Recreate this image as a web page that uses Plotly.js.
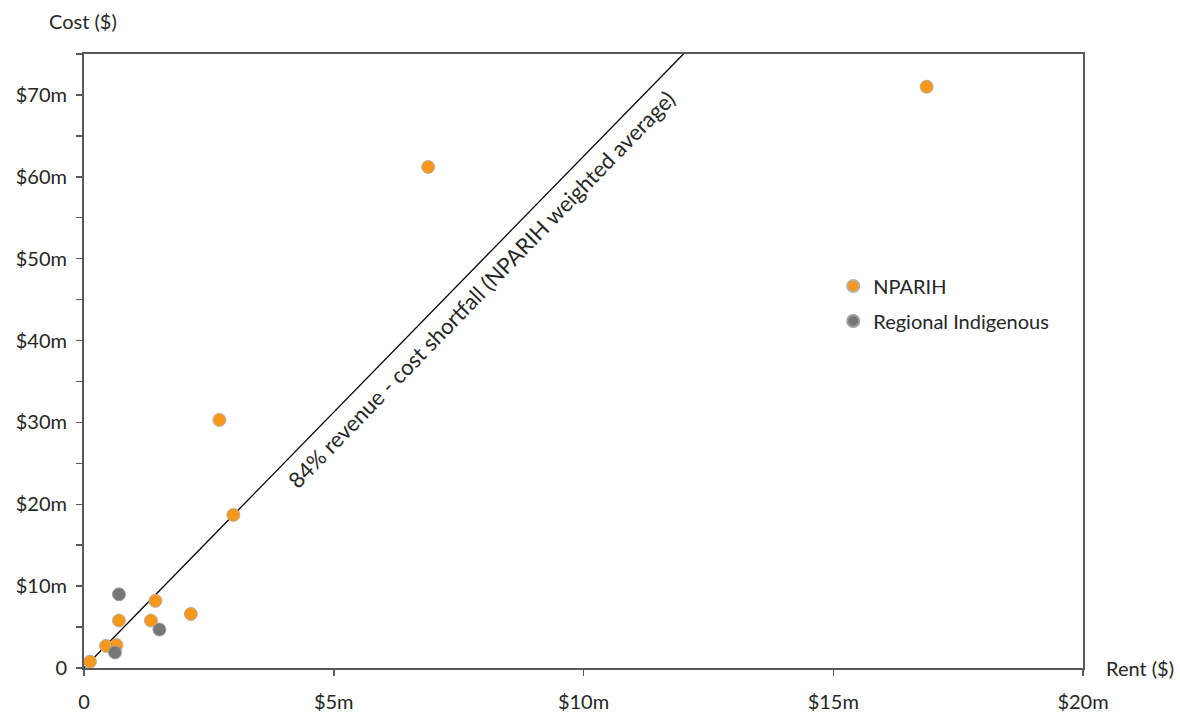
<!DOCTYPE html>
<html>
<head>
<meta charset="utf-8">
<script src="https://cdn.plot.ly/plotly-3.0.1.min.js"></script>
<style>html,body{margin:0;padding:0;background:#fff}#chart{width:1180px;height:715px}</style>
</head>
<body>
<div id="chart"></div>
<script>
// Rent ($m) and Cost ($m)
const nparihRent = [0.12, 0.44, 0.65, 0.70, 1.34, 1.43, 2.14, 2.71, 2.99, 6.89, 16.87];
const nparihCost = [0.77, 2.7, 2.8, 5.8, 5.8, 8.2, 6.6, 30.3, 18.7, 61.2, 71.0];
const regionalRent = [0.62, 0.70, 1.51];
const regionalCost = [1.9, 9.0, 4.7];
const shortfallRent = [0, 12];
const shortfallCost = [0, 75];
const xTickVals = [0, 5, 10, 15, 20];
const xTickText = ['0', '$5m', '$10m', '$15m', '$20m'];
const yTickVals = [0, 10, 20, 30, 40, 50, 60, 70];
const yTickText = ['0', '$10m', '$20m', '$30m', '$40m', '$50m', '$60m', '$70m'];

const FONT = 'Lato, "Open Sans", sans-serif';
const TXT = '#262626';
const FS = 20;

const traces = [
  {x: shortfallRent, y: shortfallCost, mode: 'lines', type: 'scatter', showlegend: false,
   line: {color: '#000', width: 1.3}, hoverinfo: 'skip'},
  {x: nparihRent, y: nparihCost, mode: 'markers', type: 'scatter', name: 'NPARIH', cliponaxis: false,
   legendgroup: 'a',
   marker: {color: '#F7981D', size: 13, line: {color: '#B8B0A0', width: 1}}},
  {x: regionalRent, y: regionalCost, mode: 'markers', type: 'scatter', name: 'Regional Indigenous', cliponaxis: false,
   legendgroup: 'b',
   marker: {color: '#767676', size: 13, line: {color: '#A0A0A0', width: 1}}}
];

const layout = {
  width: 1180, height: 715,
  margin: {l: 84, r: 97, t: 54, b: 47},
  paper_bgcolor: '#fff', plot_bgcolor: '#fff',
  font: {family: FONT, size: FS, color: TXT},
  xaxis: {range: [0, 20], tickvals: xTickVals, ticktext: xTickText, ticks: 'outside', ticklen: 6,
          tickcolor: '#595959', tickwidth: 1.5, showgrid: false, zeroline: false,
          showline: true, linecolor: '#595959', linewidth: 2, mirror: true, ticklabelstandoff: 9,
          tickfont: {family: FONT, size: FS, color: TXT}, fixedrange: true},
  yaxis: {range: [0, 75], tickvals: yTickVals, ticktext: yTickText, ticks: 'outside', ticklen: 6,
          tickcolor: '#595959', tickwidth: 1.5, showgrid: false, zeroline: false,
          showline: true, linecolor: '#595959', linewidth: 2, mirror: true, ticklabelstandoff: 5,
          minor: {ticks: 'outside', dtick: 5, tick0: 0, ticklen: 6, tickcolor: '#595959', tickwidth: 1.5, showgrid: false},
          tickfont: {family: FONT, size: FS, color: TXT}, fixedrange: true},
  legend: {x: 0.75, y: 0.654, xanchor: 'left', yanchor: 'top', bgcolor: 'rgba(0,0,0,0)',
           font: {family: FONT, size: FS, color: TXT}, tracegroupgap: 6, itemsizing: 'constant'},
  annotations: [
    {text: 'Cost ($)', xref: 'paper', yref: 'paper', x: 0, y: 1, xshift: -37, yshift: 33,
     xanchor: 'left', yanchor: 'middle', showarrow: false, font: {family: FONT, size: FS, color: TXT}},
    {text: 'Rent ($)', xref: 'paper', yref: 'paper', x: 1, y: 0, xshift: 21,
     xanchor: 'left', yanchor: 'middle', showarrow: false, font: {family: FONT, size: FS, color: TXT}},
    {text: '84% revenue - cost shortfall (NPARIH weighted average)', xref: 'x', yref: 'y', x: 7.95, y: 46.2,
     textangle: -45.8, showarrow: false, font: {family: FONT, size: 22, color: TXT}}
  ]
};

Plotly.newPlot('chart', traces, layout, {displayModeBar: false, staticPlot: true});
</script>
</body>
</html>
